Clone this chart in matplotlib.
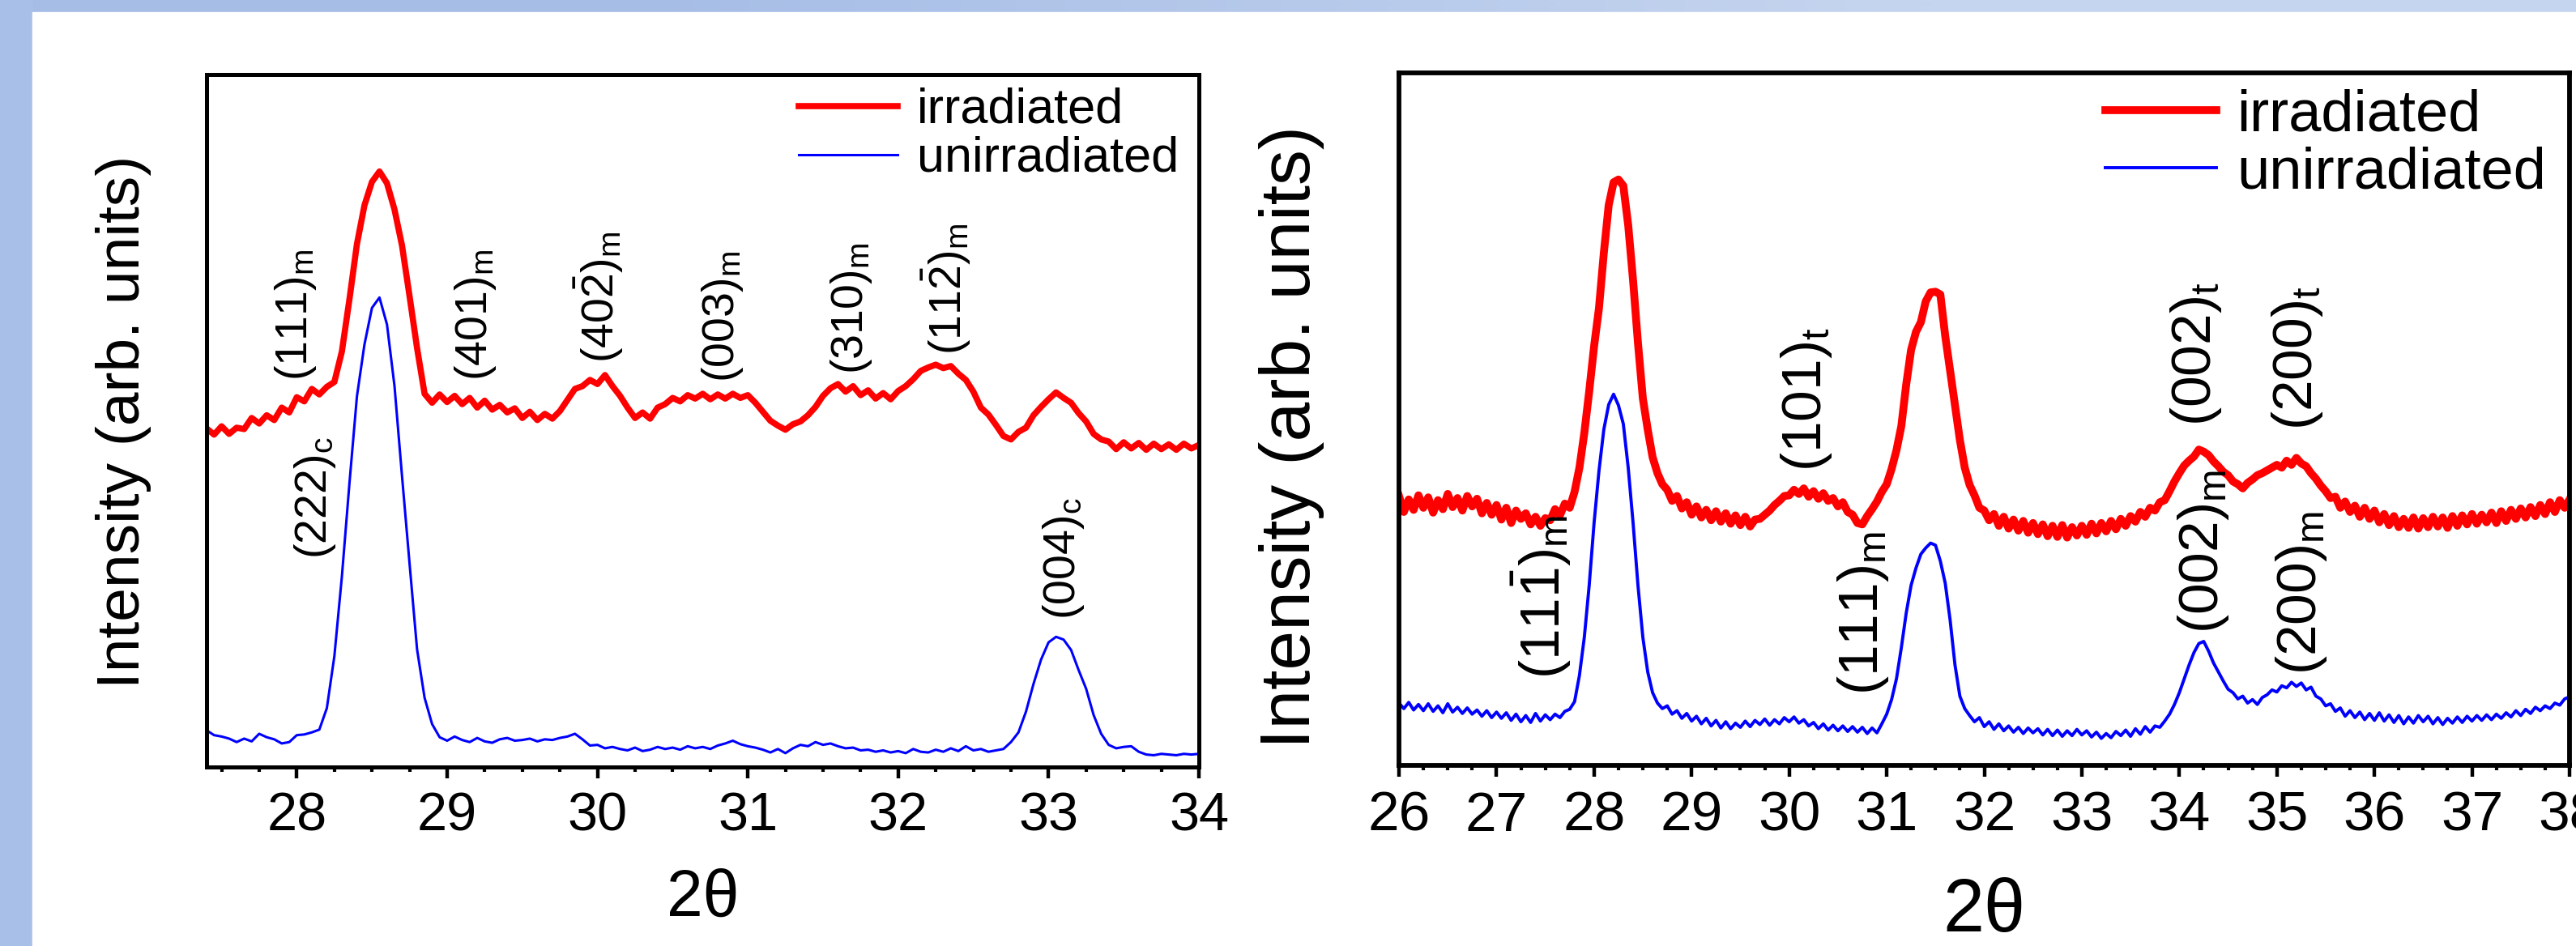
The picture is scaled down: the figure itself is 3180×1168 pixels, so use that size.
import numpy as np
import matplotlib
matplotlib.use("Agg")
import matplotlib.pyplot as plt
from matplotlib.patches import Rectangle
from matplotlib.ticker import MultipleLocator

plt.rcParams['font.family'] = ['Liberation Sans', 'DejaVu Sans']
plt.rcParams['mathtext.fontset'] = 'custom'
plt.rcParams['mathtext.rm'] = 'Liberation Sans'
plt.rcParams['mathtext.it'] = 'Liberation Sans:italic'
plt.rcParams['mathtext.bf'] = 'Liberation Sans:bold'

# ---------------- data: left panel (2theta 27.4 - 34, step 0.05) ----------------
left_x_start, left_x_step = 27.40, 0.05
left_irradiated = [
    48.9, 48.0, 49.2, 48.1, 49.0, 48.8, 50.4, 49.6, 50.8, 50.1,
    51.9, 51.2, 53.4, 52.8, 54.6, 53.8, 54.9, 55.6, 60.0, 67.5,
    75.5, 81.1, 84.5, 86.0, 84.3, 80.5, 75.3, 68.0, 60.5, 53.9,
    52.6, 53.8, 52.7, 53.6, 52.4, 53.3, 51.9, 52.9, 51.6, 52.3,
    51.2, 51.8, 50.4, 51.3, 50.1, 51.0, 50.3, 51.4, 53.0, 54.6,
    55.0, 55.9, 55.3, 56.6, 55.0, 53.6, 51.9, 50.4, 51.2, 50.3,
    51.9, 52.4, 53.3, 52.8, 53.7, 53.2, 53.9, 53.1, 53.8, 53.2,
    53.9, 53.3, 53.7, 52.6, 51.3, 50.0, 49.3, 48.7, 49.5, 49.9,
    50.8, 52.0, 53.6, 54.7, 55.3, 54.2, 55.0, 53.7, 54.4, 53.2,
    54.0, 53.1, 54.3, 55.0, 56.0, 57.2, 57.7, 58.1, 57.6, 57.9,
    56.8, 55.9, 54.2, 51.9, 50.9, 49.4, 47.8, 47.3, 48.4, 49.0,
    50.8, 52.0, 53.1, 54.1, 53.3, 52.6, 51.1, 49.9, 48.1, 47.3,
    47.0, 45.9, 46.9, 46.0, 46.8, 45.8, 46.7, 45.9, 46.6, 45.8,
    46.7, 46.0, 46.5,
]
left_unirradiated = [
    5.3, 4.6, 4.4, 4.1, 3.6, 4.1, 3.7, 4.8, 4.3, 4.0,
    3.4, 3.6, 4.6, 4.7, 5.0, 5.4, 8.5, 16.0, 27.5, 40.9,
    53.5, 61.0, 66.3, 67.8, 63.9, 55.0, 42.0, 29.4, 17.0, 10.0,
    6.2, 4.3, 3.8, 4.4, 3.9, 3.6, 4.2, 3.7, 3.5, 4.0,
    4.2, 3.8, 3.9, 4.1, 3.7, 4.0, 3.9, 4.2, 4.4, 4.8,
    4.0, 3.1, 3.2, 2.7, 2.9, 2.6, 2.4, 2.8, 2.3, 2.5,
    2.9, 2.6, 2.8, 2.5, 3.0, 2.7, 2.9, 2.6, 3.1, 3.4,
    3.8, 3.3, 3.0, 2.8, 2.5, 2.1, 2.6, 2.0, 2.7, 3.2,
    3.0, 3.6, 3.2, 3.4, 3.0, 2.7, 2.8, 2.4, 2.5, 2.2,
    2.4, 2.1, 2.3, 2.0, 2.6, 2.2, 2.1, 2.5, 2.2, 2.7,
    2.3, 3.0, 2.4, 2.6, 2.2, 2.4, 2.6, 3.6, 5.0, 8.0,
    12.0, 15.5, 18.0, 18.8, 18.4, 16.9, 14.0, 11.3, 7.5, 4.8,
    3.2, 2.7, 2.9, 3.0, 2.2, 1.8, 1.7, 1.9, 1.8, 1.7,
    1.9, 1.8, 1.9,
]

# ---------------- data: right panel (2theta 26 - 38, step 0.05) ----------------
right_x_start, right_x_step = 26.00, 0.05
right_irradiated = [
    38.9, 36.6, 38.4, 36.9, 39.0, 37.2, 38.7, 36.5, 38.3, 37.0,
    39.2, 37.3, 38.6, 36.8, 38.9, 37.4, 38.5, 36.4, 37.9, 36.2,
    37.6, 35.5, 37.2, 35.0, 36.8, 35.6, 36.4, 34.8, 35.9, 34.6,
    35.7, 35.4, 37.0, 36.1, 37.8, 37.2, 39.5, 43.0, 48.0, 54.0,
    60.5, 66.0, 74.0, 80.9, 84.2, 84.6, 83.7, 78.0, 70.0, 61.0,
    53.0, 48.5, 44.5, 42.2, 40.6, 39.8, 38.2, 38.9, 37.1, 38.0,
    36.2, 37.4, 35.8, 36.9, 35.4, 36.7, 35.2, 36.4, 34.9, 36.1,
    34.7, 35.9, 34.5, 35.5, 35.6, 36.2, 36.8, 37.6, 38.2, 38.9,
    39.0, 39.8, 39.2, 40.0, 38.8, 39.6, 38.5, 39.3, 38.2, 38.6,
    37.4, 38.0, 36.6, 36.2, 35.0, 34.8, 36.0, 37.0, 38.1, 39.5,
    40.6, 42.8, 45.5, 49.0, 55.0, 60.0, 62.6, 64.0, 67.0, 68.3,
    68.4, 68.0, 62.0, 57.0, 52.0, 47.0, 43.0, 40.5, 39.0, 37.2,
    36.8, 35.4, 36.3, 34.6, 35.9, 34.2, 35.5, 33.9, 35.3, 33.6,
    35.0, 33.4, 34.8, 33.1, 34.6, 33.0, 34.7, 32.9, 34.4, 33.2,
    34.6, 33.3, 34.9, 33.5, 35.0, 33.8, 35.3, 34.1, 35.6, 34.6,
    36.0, 35.2, 36.6, 35.9, 37.2, 36.8, 38.0, 38.3, 39.6, 41.0,
    42.2, 43.3, 44.0, 44.6, 45.6, 45.3, 44.8, 43.9, 43.2, 42.4,
    41.9, 41.0, 40.6, 40.0, 40.8, 41.3, 41.9, 42.2, 42.6, 43.0,
    43.4, 43.0, 44.0, 43.4, 44.4, 43.6, 43.2, 42.2, 41.4, 40.4,
    39.6, 38.6, 38.8, 37.2, 38.1, 36.6, 37.5, 35.9, 37.2, 35.6,
    36.8, 35.1, 36.3, 34.7, 36.0, 34.4, 35.6, 34.3, 35.8, 34.2,
    35.7, 34.4, 35.9, 34.5, 35.8, 34.3, 36.0, 34.6, 36.1, 34.8,
    36.3, 34.9, 36.2, 35.1, 36.5, 35.0, 36.7, 35.3, 36.9, 35.6,
    37.1, 35.8, 37.3, 36.0, 37.6, 36.3, 38.0, 36.6, 38.3, 37.2,
    38.4,
]
right_unirradiated = [
    9.0, 8.2, 9.1, 8.0, 8.8, 7.9, 8.9, 7.8, 8.6, 7.6,
    8.9, 7.7, 8.4, 7.5, 8.3, 7.4, 8.0, 7.1, 7.9, 6.9,
    7.7, 6.8, 7.6, 6.5, 7.4, 6.3, 7.2, 6.2, 7.5, 6.4,
    7.3, 6.6, 7.4, 6.9, 7.8, 8.1, 9.2, 13.0, 18.5, 26.0,
    35.0, 42.5, 48.5, 52.1, 53.6, 52.0, 49.3, 43.0, 35.0, 26.0,
    18.5, 13.5, 10.5, 9.0, 8.2, 8.6, 7.4, 7.9, 6.8, 7.5,
    6.4, 7.1, 6.0, 6.8, 5.7, 6.5, 5.4, 6.3, 5.3, 6.1,
    5.5, 6.4, 5.6, 6.5, 5.9, 6.7, 5.8, 6.6, 6.0, 6.9,
    6.3, 7.0, 6.1, 6.6, 5.7, 6.2, 5.3, 6.0, 5.1, 5.8,
    5.0, 5.7, 4.9, 5.6, 4.8, 5.5, 4.6, 5.4, 4.7, 6.0,
    7.4, 9.5, 12.5, 17.0, 22.0, 26.0, 28.5, 30.5, 31.4, 32.1,
    31.8, 29.5, 26.3, 21.0, 14.5, 10.0, 8.2, 7.2, 6.3, 6.9,
    5.6, 6.3, 5.2, 6.0, 5.0, 5.7, 4.8, 5.5, 4.6, 5.4,
    4.7, 5.3, 4.4, 5.2, 4.3, 5.1, 4.2, 5.0, 4.3, 5.2,
    4.4, 5.0, 4.1, 4.8, 3.9, 4.6, 4.0, 4.9, 4.3, 5.1,
    4.2, 5.3, 4.5, 5.6, 4.8, 5.7, 5.5, 6.4, 7.4, 8.8,
    10.5, 12.5, 14.5, 16.3, 17.6, 17.9, 16.5, 14.8, 13.5, 12.2,
    11.0, 10.5, 9.6, 10.0, 9.0, 9.5, 8.8, 9.8, 10.2, 10.9,
    10.6, 11.5, 11.2, 12.0, 11.4, 11.9, 10.9, 11.3, 10.0, 9.6,
    8.6, 8.9, 7.8, 8.3, 7.1, 7.9, 6.9, 7.7, 6.6, 7.5,
    6.5, 7.6, 6.4, 7.3, 6.2, 7.2, 6.0, 7.0, 6.1, 7.2,
    6.3, 7.1, 6.0, 6.9, 5.9, 6.8, 6.1, 7.0, 6.2, 7.1,
    6.4, 7.2, 6.5, 7.3, 6.6, 7.4, 6.8, 7.6, 7.0, 7.9,
    7.2, 8.1, 7.5, 8.4, 7.9, 8.6, 8.2, 9.0, 8.7, 9.6,
    9.9,
]

# peak labels: (text, 2theta, y at the start of the text)
left_labels = [
    (r'$\mathrm{(111)_m}$', 27.99, 55.8),
    (r'$\mathrm{(401)_m}$', 29.19, 55.8),
    (r'$\mathrm{(40\bar{2})_m}$', 30.01, 58.4),
    (r'$\mathrm{(003)_m}$', 30.83, 55.5),
    (r'$\mathrm{(310)_m}$', 31.69, 56.7),
    (r'$\mathrm{(11\bar{2})_m}$', 32.32, 59.5),
    (r'$\mathrm{(222)_c}$', 28.12, 30.0),
    (r'$\mathrm{(004)_c}$', 33.10, 21.3),
]
right_labels = [
    (r'$\mathrm{(101)_t}$', 30.18, 42.4),
    (r'$\mathrm{(002)_t}$', 34.17, 49.0),
    (r'$\mathrm{(200)_t}$', 35.21, 48.4),
    (r'$\mathrm{(11\bar{1})_m}$', 27.46, 12.5),
    (r'$\mathrm{(111)_m}$', 30.76, 10.2),
    (r'$\mathrm{(002)_m}$', 34.25, 19.1),
    (r'$\mathrm{(200)_m}$', 35.25, 13.1),
]
left_ticks = [28, 29, 30, 31, 32, 33, 34]
right_ticks = list(range(26, 39))

# ---------------- figure ----------------
W, H, DPI = 3180, 1168, 100
fig = plt.figure(figsize=(W / DPI, H / DPI), dpi=DPI)
fig.patch.set_facecolor('#A8BFE7')
# top strip gradient
bg = fig.add_axes([0, 0, 1, 1], zorder=-10)
bg.imshow(np.array([[0.0, 1.0]]), cmap=matplotlib.colors.LinearSegmentedColormap.from_list(
    'g', ['#A6BDE6', '#C6D5EF']), aspect='auto', extent=[0, 1, 0, 1], interpolation='bilinear')
bg.set_xlim(0, 1); bg.set_ylim(0, 1); bg.axis('off')
bg.add_patch(Rectangle((0, 0), 40 / W, 1, color='#A8BFE7', zorder=2))
bg.add_patch(Rectangle((40 / W, 0), 1, (H - 15) / H, color='white', zorder=3))


def px_axes(x0, x1, y0, y1):
    return fig.add_axes([x0 / W, 1 - y1 / H, (x1 - x0) / W, (y1 - y0) / H])


def setup(ax, xlim, ticks, spw, tickfs):
    ax.set_xlim(*xlim)
    ax.set_ylim(0, 100)
    ax.set_yticks([])
    ax.set_xticks(ticks)
    ax.xaxis.set_minor_locator(MultipleLocator(0.25))
    for s in ax.spines.values():
        s.set_linewidth(spw)
    ax.tick_params(axis='x', which='major', direction='out', length=10, width=3.2,
                   labelsize=tickfs, pad=12)
    ax.tick_params(axis='x', which='minor', direction='out', length=4.5, width=3.0)
    ax.set_facecolor('white')


def peak_label(ax, t, x, y, fs):
    ax.text(x, y, t, rotation=90, rotation_mode='anchor', ha='left', va='center', fontsize=fs)


# left panel
axL = px_axes(255, 1480, 92, 947)
xL = [left_x_start + i * left_x_step for i in range(len(left_irradiated))]
axL.plot(xL, left_irradiated, color='#FF0000', lw=5.5, label='irradiated')
axL.plot(xL, left_unirradiated, color='#0000FF', lw=2.2, label='unirradiated')
setup(axL, (27.4, 34.0), left_ticks, 3.6, 48)
for t, x, y in left_labels:
    peak_label(axL, t, x, y, 40)
axL.set_xlabel('2θ', fontsize=58)
axL.xaxis.label.set_va('center')
axL.xaxis.set_label_coords(0.5, -0.19)
axL.set_ylabel('Intensity (arb. units)', fontsize=54)
axL.yaxis.label.set_va('center')
axL.yaxis.set_label_coords(-0.084, 0.498)
legL = axL.legend(loc='upper right', bbox_to_anchor=(1.0, 1.01), frameon=False, fontsize=44,
                  handlelength=2.0, handletextpad=0.4, labelspacing=0.05, borderaxespad=0.0)

# right panel
axR = px_axes(1727, 3172, 90, 945)
xR = [right_x_start + i * right_x_step for i in range(len(right_irradiated))]
axR.plot(xR, right_irradiated, color='#FF0000', lw=7.0, label='irradiated')
axR.plot(xR, right_unirradiated, color='#0000FF', lw=2.8, label='unirradiated')
setup(axR, (26.0, 38.0), right_ticks, 4.2, 50)
for t, x, y in right_labels:
    peak_label(axR, t, x, y, 50)
axR.set_xlabel('2θ', fontsize=66)
axR.xaxis.label.set_va('center')
axR.xaxis.set_label_coords(0.5, -0.212)
axR.set_ylabel('Intensity (arb. units)', fontsize=63)
axR.yaxis.label.set_va('center')
axR.yaxis.set_label_coords(-0.092, 0.474)
legR = axR.legend(loc='upper right', bbox_to_anchor=(1.0, 1.011), frameon=False, fontsize=52,
                  handlelength=1.9, handletextpad=0.35, labelspacing=0.05, borderaxespad=0.0)

fig.savefig('out.png', dpi=DPI, facecolor=fig.get_facecolor())
